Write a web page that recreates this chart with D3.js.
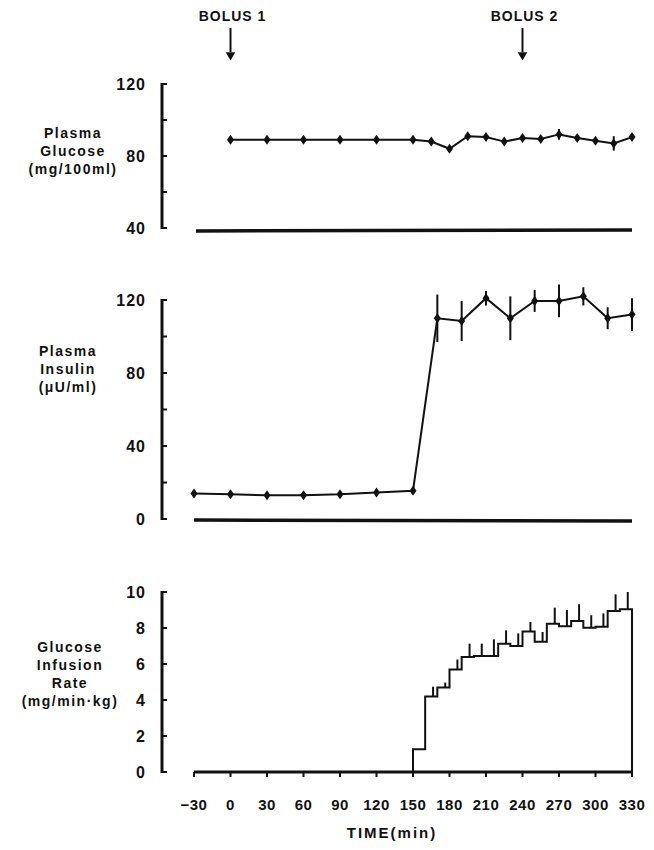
<!DOCTYPE html>
<html><head><meta charset="utf-8">
<script src="https://cdn.jsdelivr.net/npm/d3@7"></script>
<style>
body { margin: 0; background: #fff; }
text { font-family: "Liberation Sans", Arial, sans-serif; font-weight: bold; fill: #111; }
</style></head>
<body><div id="visual"></div>
<script>
// glucose (mg/100ml)
let glucoseTime = [0, 30, 60, 90, 120, 150, 165, 180, 195, 210, 225, 240, 255, 270, 285, 300, 315, 330]
let glucoseVal  = [89, 89, 89, 89, 89, 89, 88, 84, 91, 90.5, 88, 90, 89.5, 92, 90, 88.5, 87, 90.5]
let glucoseErr  = [0, 0, 0, 0, 0, 0, 0, 1.5, 1.5, 2, 0, 0, 0, 3, 1.5, 0, 4, 1.5]

// insulin (uU/ml)
let insulinTime = [-30, 0, 30, 60, 90, 120, 150, 170, 190, 210, 230, 250, 270, 290, 310, 330]
let insulinVal  = [14, 13.5, 13, 13, 13.5, 14.5, 15.5, 110, 108.5, 121, 110, 119.5, 119.5, 122, 110, 112]
let insulinErr  = [0, 0, 0, 0, 0, 0, 0, 13, 11, 4, 12, 6, 9, 5, 6, 9]

// glucose infusion rate, 10-min steps from 150 to 330
let infusionStart = [150, 160, 170, 180, 190, 200, 210, 220, 230, 240, 250, 260, 270, 280, 290, 300, 310, 320]
let infusionVal   = [1.26, 4.19, 4.69, 5.7, 6.39, 6.44, 6.44, 7.13, 7.0, 7.8, 7.24, 8.24, 8.1, 8.39, 8.02, 8.07, 8.94, 9.04]
let infusionErr   = [0, 0.55, 0.28, 0.55, 0.74, 0.69, 0.93, 0.74, 0.7, 0.54, 0.54, 0.89, 0.9, 0.93, 0.69, 0.74, 0.93, 0.96]

let timeTicks = [-30, 0, 30, 60, 90, 120, 150, 180, 210, 240, 270, 300, 330]
let glucoseTicks = [40, 80, 120]
let insulinTicks = [0, 40, 80, 120]
let infusionTicks = [0, 2, 4, 6, 8, 10]

let width = 654, height = 850
let axisX = 162

let svg = d3.select("#visual").append("svg")
    .attr("width", width).attr("height", height)

let x = d3.scaleLinear().domain([-30, 330]).range([194, 632])

let yGlu = d3.scaleLinear().domain([40, 120]).range([228, 84])
let yIns = d3.scaleLinear().domain([0, 120]).range([519, 300])
let yInf = d3.scaleLinear().domain([0, 10]).range([772, 592])

function yAxis(scale, ticks, minorStep) {
    let g = svg.append("g").attr("transform", "translate(" + axisX + ",0)")
    let d = scale.domain()
    g.append("line").attr("y1", scale(d[0]) + 1).attr("y2", scale(d[1]) - 1)
        .attr("stroke", "#111").attr("stroke-width", 3)
    let minor = d3.range(d[0], d[1] + 0.001, minorStep)
    g.selectAll(".tk").data(minor).enter().append("line")
        .attr("x1", 0).attr("x2", 5)
        .attr("y1", v => scale(v)).attr("y2", v => scale(v))
        .attr("stroke", "#111").attr("stroke-width", 2)
    g.selectAll(".lb").data(ticks).enter().append("text")
        .attr("x", -16).attr("y", v => scale(v) + 6)
        .attr("text-anchor", "end").attr("font-size", 16)
        .attr("letter-spacing", 1)
        .text(v => v)
}

function panelLabel(lines, cx, cy) {
    svg.append("text").attr("text-anchor", "middle").attr("font-size", 14)
        .attr("letter-spacing", 1.5)
        .selectAll("tspan").data(lines).enter().append("tspan")
        .attr("x", cx).attr("y", (d, i) => cy + i * 18).text(d => d)
}

function diamonds(times, vals, scale) {
    svg.selectAll(null).data(times).enter().append("path")
        .attr("d", "M0,-5L3.5,0L0,5L-3.5,0Z")
        .attr("transform", (t, i) => "translate(" + x(t) + "," + scale(vals[i]) + ")")
        .attr("fill", "#111")
}

function errBars(times, lo, hi, scale) {
    let bars = times.map((t, i) => ({ t: t, lo: lo[i], hi: hi[i] })).filter(b => b.hi > b.lo)
    svg.selectAll(null).data(bars).enter().append("line")
        .attr("x1", b => x(b.t)).attr("x2", b => x(b.t))
        .attr("y1", b => scale(b.lo)).attr("y2", b => scale(b.hi))
        .attr("stroke", "#111").attr("stroke-width", 2)
}

// ---- glucose panel
yAxis(yGlu, glucoseTicks, 20)
svg.append("line").attr("x1", 196).attr("x2", 632)
    .attr("y1", yGlu(40) + 3).attr("y2", yGlu(40) + 2)
    .attr("stroke", "#111").attr("stroke-width", 3.5)
panelLabel(["Plasma", "Glucose", "(mg/100ml)"], 73, 138)
errBars(glucoseTime, glucoseVal.map((v, i) => v - glucoseErr[i]), glucoseVal.map((v, i) => v + glucoseErr[i]), yGlu)
svg.append("path").datum(glucoseTime)
    .attr("d", d3.line().x(t => x(t)).y((t, i) => yGlu(glucoseVal[i])))
    .attr("fill", "none").attr("stroke", "#111").attr("stroke-width", 2)
diamonds(glucoseTime, glucoseVal, yGlu)

// ---- insulin panel
yAxis(yIns, insulinTicks, 20)
svg.append("line").attr("x1", 194).attr("x2", 632)
    .attr("y1", yIns(0) + 1).attr("y2", yIns(0) + 2)
    .attr("stroke", "#111").attr("stroke-width", 3.5)
panelLabel(["Plasma", "Insulin", "(\u03BCU/ml)"], 68, 356)
errBars(insulinTime, insulinVal.map((v, i) => v - insulinErr[i]), insulinVal.map((v, i) => v + insulinErr[i]), yIns)
svg.append("path").datum(insulinTime)
    .attr("d", d3.line().x(t => x(t)).y((t, i) => yIns(insulinVal[i])))
    .attr("fill", "none").attr("stroke", "#111").attr("stroke-width", 2)
diamonds(insulinTime, insulinVal, yIns)

// ---- infusion panel
yAxis(yInf, infusionTicks, 2)
panelLabel(["Glucose", "Infusion", "Rate", "(mg/min\u00B7kg)"], 70, 652)
let xAxisG = svg.append("g").attr("transform", "translate(0," + yInf(0) + ")")
xAxisG.append("line").attr("x1", x(-30)).attr("x2", x(330))
    .attr("stroke", "#111").attr("stroke-width", 3)
xAxisG.selectAll(".tk").data(timeTicks).enter().append("line")
    .attr("x1", t => x(t)).attr("x2", t => x(t)).attr("y1", 0).attr("y2", 5)
    .attr("stroke", "#111").attr("stroke-width", 2)
xAxisG.selectAll(".lb").data(timeTicks).enter().append("text")
    .attr("x", t => x(t)).attr("y", 38).attr("text-anchor", "middle")
    .attr("font-size", 15).attr("letter-spacing", 0.5).text(t => t < 0 ? "\u2212" + (-t) : t)
svg.append("text").attr("x", 392).attr("y", 838).attr("text-anchor", "middle")
    .attr("font-size", 15).attr("letter-spacing", 2).text("TIME(min)")

let stepPts = [[x(infusionStart[0]), yInf(0)]]
infusionStart.forEach((t, i) => {
    stepPts.push([x(t), yInf(infusionVal[i])])
    stepPts.push([x(t + 10), yInf(infusionVal[i])])
})
stepPts.push([x(330), yInf(0)])
svg.append("path").datum(stepPts).attr("d", d3.line())
    .attr("fill", "none").attr("stroke", "#111").attr("stroke-width", 2)
errBars(infusionStart.map(t => t + 6.5), infusionVal, infusionVal.map((v, i) => v + infusionErr[i]), yInf)

// ---- bolus markers
let bolus = [{ t: 0, label: "BOLUS 1" }, { t: 240, label: "BOLUS 2" }]
bolus.forEach(b => {
    svg.append("text").attr("x", x(b.t) + 2).attr("y", 21).attr("text-anchor", "middle")
        .attr("font-size", 14).attr("letter-spacing", 1).text(b.label)
    svg.append("line").attr("x1", x(b.t)).attr("x2", x(b.t)).attr("y1", 28).attr("y2", 52)
        .attr("stroke", "#111").attr("stroke-width", 2)
    svg.append("path").attr("d", d3.symbol().type(d3.symbolTriangle).size(40))
        .attr("transform", "translate(" + x(b.t) + ",55) rotate(180)").attr("fill", "#111")
})
</script></body></html>
